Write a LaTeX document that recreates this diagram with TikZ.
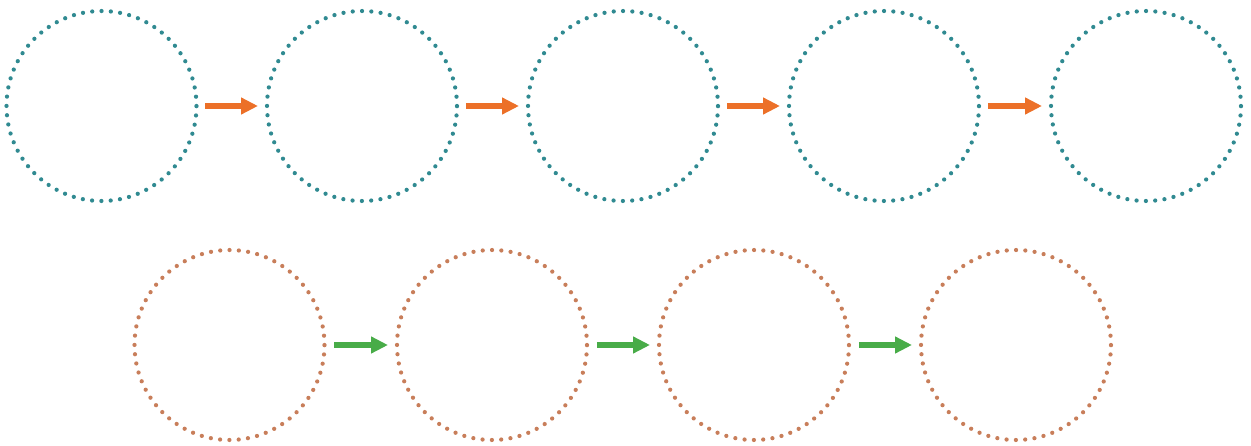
\documentclass[tikz,border=0pt]{standalone}
\usepackage{tikz}
\usetikzlibrary{arrows.meta}
\definecolor{tealdot}{RGB}{48, 138, 145}
\definecolor{orangedot}{RGB}{200, 126, 90}
\definecolor{accent}{RGB}{236, 112, 40}
\definecolor{leaf}{RGB}{72, 172, 72}

\begin{document}
\begin{tikzpicture}[x=0.02cm, y=-0.02cm,
    ring/.style={circle, minimum size=3.8cm, inner sep=0pt, outer sep=0pt,
                 line width=0.085cm, line cap=round,
                 dash pattern=on 0pt off 0.1865cm},
    toparrow/.style={accent, line width=0.12cm, shorten <=0.18cm, shorten >=0.18cm,
                     -{Triangle[length=0.34cm, width=0.32cm]}},
    botarrow/.style={leaf, line width=0.12cm, shorten <=0.2cm, shorten >=0.18cm,
                     -{Triangle[length=0.34cm, width=0.32cm]}}]
  \useasboundingbox (0,0) rectangle (1251,446);
  % top row
  \node[ring, draw=tealdot] (t1) at (101.5,106) {};
  \node[ring, draw=tealdot] (t2) at (362,106) {};
  \node[ring, draw=tealdot] (t3) at (623,106) {};
  \node[ring, draw=tealdot] (t4) at (884,106) {};
  \node[ring, draw=tealdot] (t5) at (1146,106) {};
  \draw[toparrow] (t1) -- (t2);
  \draw[toparrow] (t2) -- (t3);
  \draw[toparrow] (t3) -- (t4);
  \draw[toparrow] (t4) -- (t5);
  % bottom row
  \node[ring, draw=orangedot] (b1) at (229.5,345) {};
  \node[ring, draw=orangedot] (b2) at (492,345) {};
  \node[ring, draw=orangedot] (b3) at (754,345) {};
  \node[ring, draw=orangedot] (b4) at (1016,345) {};
  \draw[botarrow] (b1) -- (b2);
  \draw[botarrow] (b2) -- (b3);
  \draw[botarrow] (b3) -- (b4);
\end{tikzpicture}
\end{document}
